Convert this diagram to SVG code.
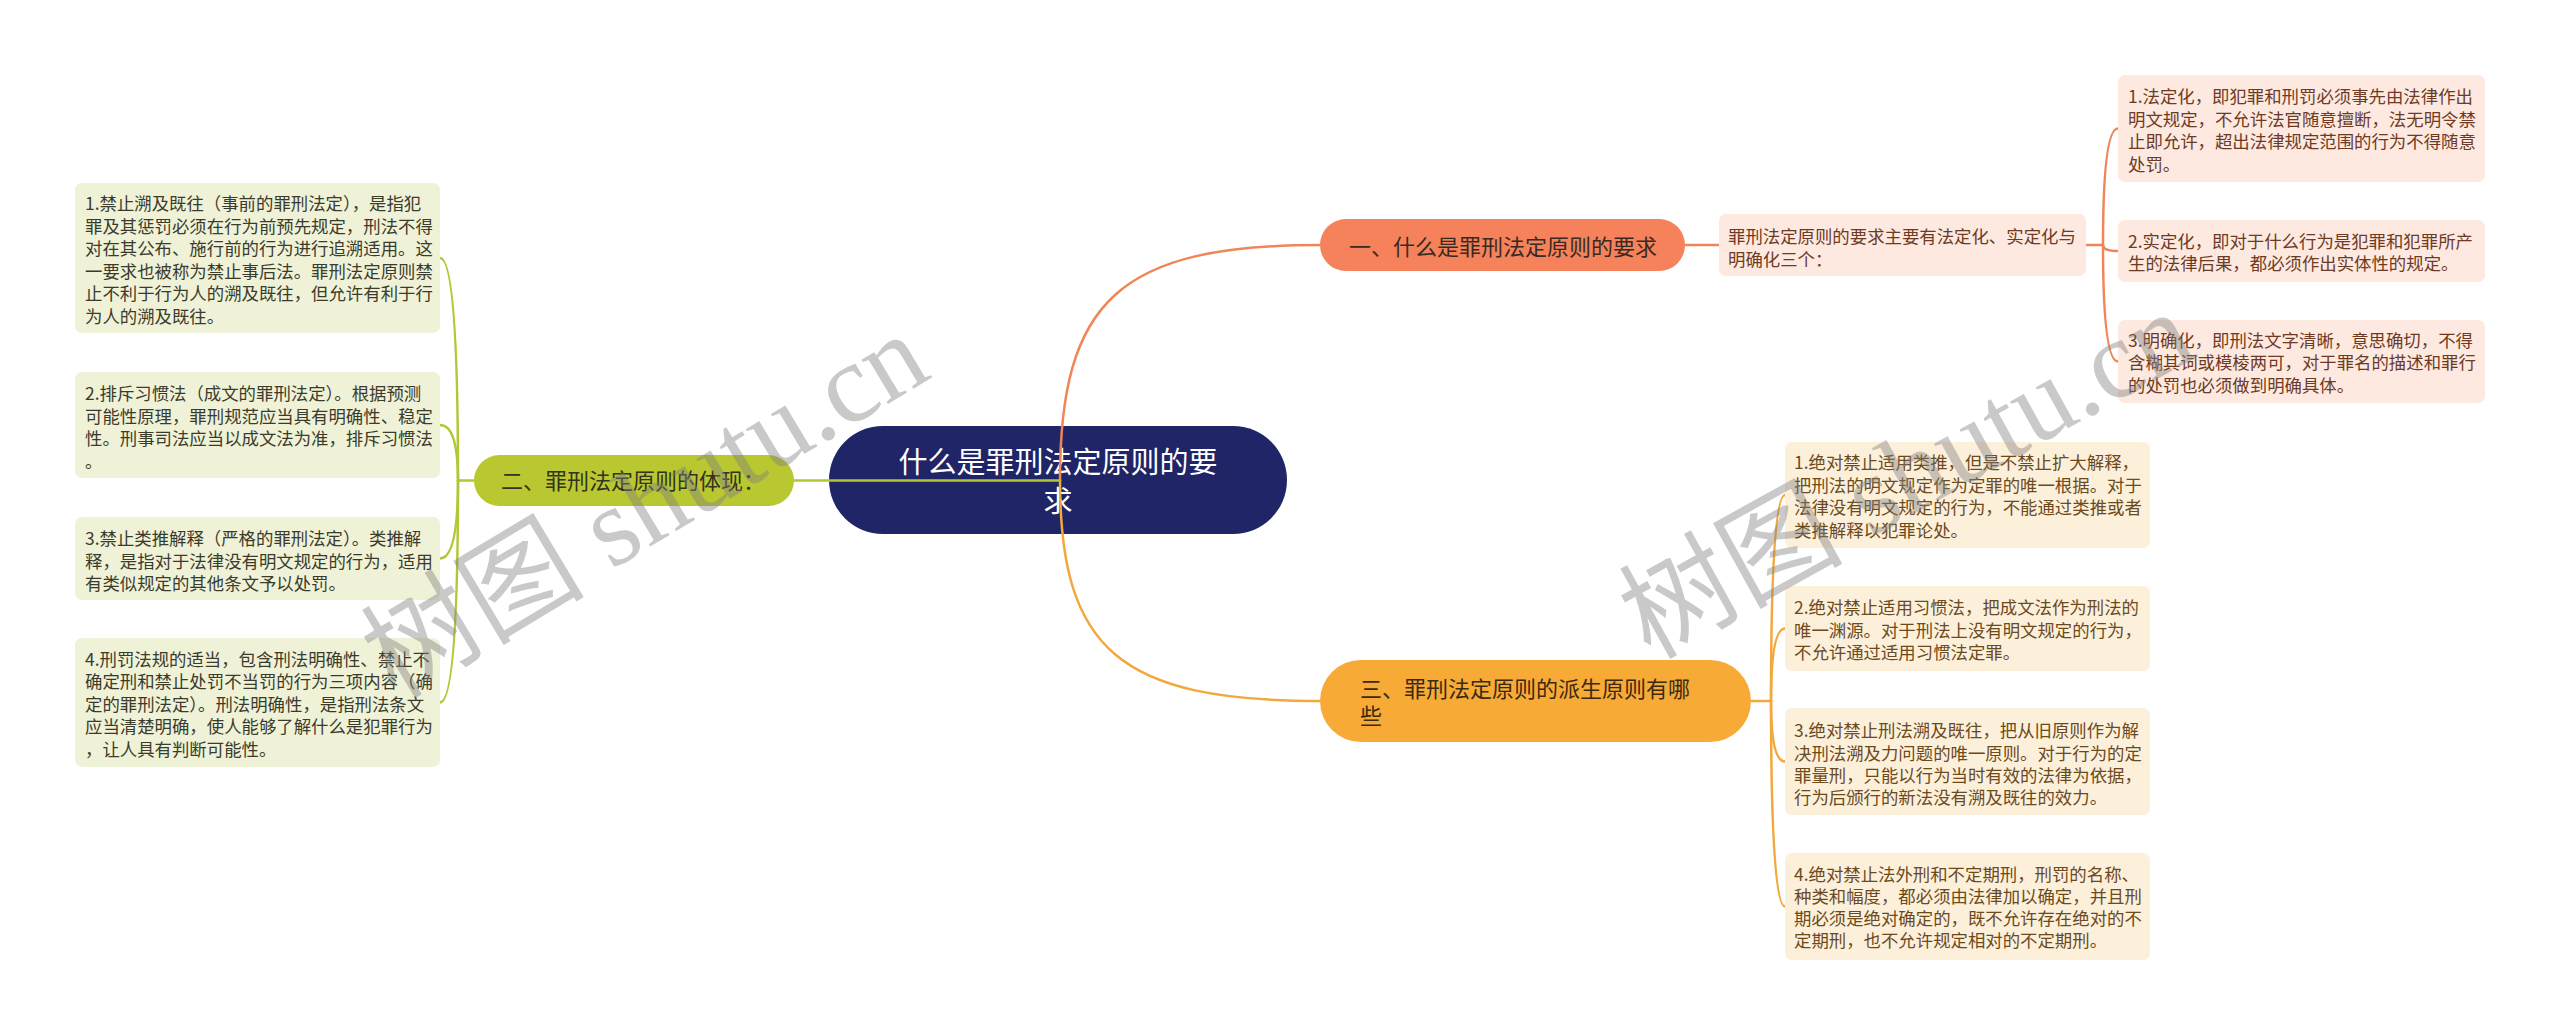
<svg xmlns="http://www.w3.org/2000/svg" width="2560" height="1035" viewBox="0 0 2560 1035">
<style>
text{font-family:"Noto Sans CJK SC","Noto Sans",sans-serif;}
.t{font-size:17.4px;}
.tg{fill:#3b3b2c;}
.tr{fill:#6e3a24;}
.ty{fill:#6b4a1c;}
.bg{fill:#eff2d7;}
.br{fill:#fde9e0;}
.by{fill:#fdf0db;}
.c{fill:none;stroke-width:2.5;stroke-linecap:round;}
.cg{stroke:#b3c636;}
.co{stroke:#ef8558;}
.cy{stroke:#f2a83c;}
.wm{font-family:"Liberation Serif","Noto Sans CJK SC",serif;font-size:112px;fill:#808080;opacity:0.42;}
</style>
<rect width="2560" height="1035" fill="#ffffff"/>

<g id="root">
<rect x="829" y="426" width="458" height="108" rx="54" fill="#1f2566"/>
<text x="1058" y="473" font-size="29" fill="#ffffff" text-anchor="middle">什么是罪刑法定原则的要</text>
<text x="1058" y="512" font-size="29" fill="#ffffff" text-anchor="middle">求</text>
</g>

<g id="connectors">
<path class="c co" d="M1060,480 C1060,300 1120,245 1320,245"/>
<path class="c cy" d="M1060,480 C1060,650 1120,701 1320,701"/>
<path class="c cg" d="M1060,480.5 H794"/>
<path class="c co" d="M1685,245 H1719"/>
<path class="c co" d="M2086,245 H2103"/>
<path class="c co" d="M2103,245 Q2103,128.5 2118,128.5"/>
<path class="c co" d="M2103,245 Q2103,251 2118,251"/>
<path class="c co" d="M2103,245 Q2103,361.5 2118,361.5"/>
<path class="c cg" d="M474,480.5 H458"/>
<path class="c cg" d="M458,480.5 Q458,258 440,258"/>
<path class="c cg" d="M458,480.5 Q458,425 440,425"/>
<path class="c cg" d="M458,480.5 Q458,558.5 440,558.5"/>
<path class="c cg" d="M458,480.5 Q458,702.5 440,702.5"/>
<path class="c cy" d="M1751,701 H1771"/>
<path class="c cy" d="M1771,701 Q1771,495 1785,495"/>
<path class="c cy" d="M1771,701 Q1771,628.5 1785,628.5"/>
<path class="c cy" d="M1771,701 Q1771,761.5 1785,761.5"/>
<path class="c cy" d="M1771,701 Q1771,906.5 1785,906.5"/>
</g>

<g id="n1">
<rect x="1320" y="219" width="365" height="52" rx="26" fill="#f5825a"/>
<text x="1503" y="255.4" font-size="22" fill="#3a2a22" text-anchor="middle">一、什么是罪刑法定原则的要求</text>
</g>

<g id="n1-desc">
<rect class="br" x="1719" y="214" width="367" height="62" rx="7"/>
<text class="t tr" x="1728" y="243.3">罪刑法定原则的要求主要有法定化、实定化与</text>
<text class="t tr" x="1728" y="265.8">明确化三个：</text>
</g>

<g id="n1-1">
<rect class="br" x="2118" y="75" width="367" height="107" rx="7"/>
<text class="t tr" x="2128" y="103.3">1.法定化，即犯罪和刑罚必须事先由法律作出</text>
<text class="t tr" x="2128" y="125.7">明文规定，不允许法官随意擅断，法无明令禁</text>
<text class="t tr" x="2128" y="148.1">止即允许，超出法律规定范围的行为不得随意</text>
<text class="t tr" x="2128" y="170.5">处罚。</text>
</g>

<g id="n1-2">
<rect class="br" x="2118" y="220" width="367" height="62" rx="7"/>
<text class="t tr" x="2128" y="248.3">2.实定化，即对于什么行为是犯罪和犯罪所产</text>
<text class="t tr" x="2128" y="270">生的法律后果，都必须作出实体性的规定。</text>
</g>

<g id="n1-3">
<rect class="br" x="2118" y="320" width="367" height="83" rx="7"/>
<text class="t tr" x="2128" y="346.6">3.明确化，即刑法文字清晰，意思确切，不得</text>
<text class="t tr" x="2128" y="369">含糊其词或模棱两可，对于罪名的描述和罪行</text>
<text class="t tr" x="2128" y="391.6">的处罚也必须做到明确具体。</text>
</g>

<g id="n2">
<rect x="474" y="455" width="320" height="51" rx="25.5" fill="#b9c830"/>
<text x="501" y="488.7" font-size="22" fill="#33331f">二、罪刑法定原则的体现：</text>
</g>

<g id="n2-1">
<rect class="bg" x="75" y="183" width="365" height="150" rx="7"/>
<text class="t tg" x="85" y="210">1.禁止溯及既往（事前的罪刑法定），是指犯</text>
<text class="t tg" x="85" y="232.6">罪及其惩罚必须在行为前预先规定，刑法不得</text>
<text class="t tg" x="85" y="255.2">对在其公布、施行前的行为进行追溯适用。这</text>
<text class="t tg" x="85" y="277.8">一要求也被称为禁止事后法。罪刑法定原则禁</text>
<text class="t tg" x="85" y="300.4">止不利于行为人的溯及既往，但允许有利于行</text>
<text class="t tg" x="85" y="323">为人的溯及既往。</text>
</g>

<g id="n2-2">
<rect class="bg" x="75" y="372" width="365" height="106" rx="7"/>
<text class="t tg" x="85" y="400">2.排斥习惯法（成文的罪刑法定）。根据预测</text>
<text class="t tg" x="85" y="422.5">可能性原理，罪刑规范应当具有明确性、稳定</text>
<text class="t tg" x="85" y="445">性。刑事司法应当以成文法为准，排斥习惯法</text>
<text class="t tg" x="85" y="467.5">。</text>
</g>

<g id="n2-3">
<rect class="bg" x="75" y="517" width="365" height="83" rx="7"/>
<text class="t tg" x="85" y="545">3.禁止类推解释（严格的罪刑法定）。类推解</text>
<text class="t tg" x="85" y="567.5">释，是指对于法律没有明文规定的行为，适用</text>
<text class="t tg" x="85" y="590">有类似规定的其他条文予以处罚。</text>
</g>

<g id="n2-4">
<rect class="bg" x="75" y="638" width="365" height="129" rx="7"/>
<text class="t tg" x="85" y="665.6">4.刑罚法规的适当，包含刑法明确性、禁止不</text>
<text class="t tg" x="85" y="688">确定刑和禁止处罚不当罚的行为三项内容（确</text>
<text class="t tg" x="85" y="710.6">定的罪刑法定）。刑法明确性，是指刑法条文</text>
<text class="t tg" x="85" y="733">应当清楚明确，使人能够了解什么是犯罪行为</text>
<text class="t tg" x="85" y="755.6">，让人具有判断可能性。</text>
</g>

<g id="n3">
<rect x="1320" y="660" width="431" height="82" rx="41" fill="#f8aa37"/>
<text x="1360" y="697.4" font-size="22" fill="#3a2a12">三、罪刑法定原则的派生原则有哪</text>
<text x="1360" y="724.4" font-size="22" fill="#3a2a12">些</text>
</g>

<g id="n3-1">
<rect class="by" x="1785" y="442" width="365" height="106" rx="7"/>
<text class="t ty" x="1794" y="469">1.绝对禁止适用类推，但是不禁止扩大解释，</text>
<text class="t ty" x="1794" y="491.5">把刑法的明文规定作为定罪的唯一根据。对于</text>
<text class="t ty" x="1794" y="514">法律没有明文规定的行为，不能通过类推或者</text>
<text class="t ty" x="1794" y="536.5">类推解释以犯罪论处。</text>
</g>

<g id="n3-2">
<rect class="by" x="1785" y="586" width="365" height="85" rx="7"/>
<text class="t ty" x="1794" y="614">2.绝对禁止适用习惯法，把成文法作为刑法的</text>
<text class="t ty" x="1794" y="636.5">唯一渊源。对于刑法上没有明文规定的行为，</text>
<text class="t ty" x="1794" y="659">不允许通过适用习惯法定罪。</text>
</g>

<g id="n3-3">
<rect class="by" x="1785" y="708" width="365" height="107" rx="7"/>
<text class="t ty" x="1794" y="737.3">3.绝对禁止刑法溯及既往，把从旧原则作为解</text>
<text class="t ty" x="1794" y="759.5">决刑法溯及力问题的唯一原则。对于行为的定</text>
<text class="t ty" x="1794" y="781.7">罪量刑，只能以行为当时有效的法律为依据，</text>
<text class="t ty" x="1794" y="804">行为后颁行的新法没有溯及既往的效力。</text>
</g>

<g id="n3-4">
<rect class="by" x="1785" y="853" width="365" height="107" rx="7"/>
<text class="t ty" x="1794" y="880.6">4.绝对禁止法外刑和不定期刑，刑罚的名称、</text>
<text class="t ty" x="1794" y="902.8">种类和幅度，都必须由法律加以确定，并且刑</text>
<text class="t ty" x="1794" y="925">期必须是绝对确定的，既不允许存在绝对的不</text>
<text class="t ty" x="1794" y="947.3">定期刑，也不允许规定相对的不定期刑。</text>
</g>

<g id="watermarks">
<text class="wm" x="395" y="700" transform="rotate(-31 395 700)">树图 shutu.cn</text>
<text class="wm" x="1650" y="660" transform="rotate(-29 1650 660)">树图 shutu.cn</text>
</g>
</svg>
